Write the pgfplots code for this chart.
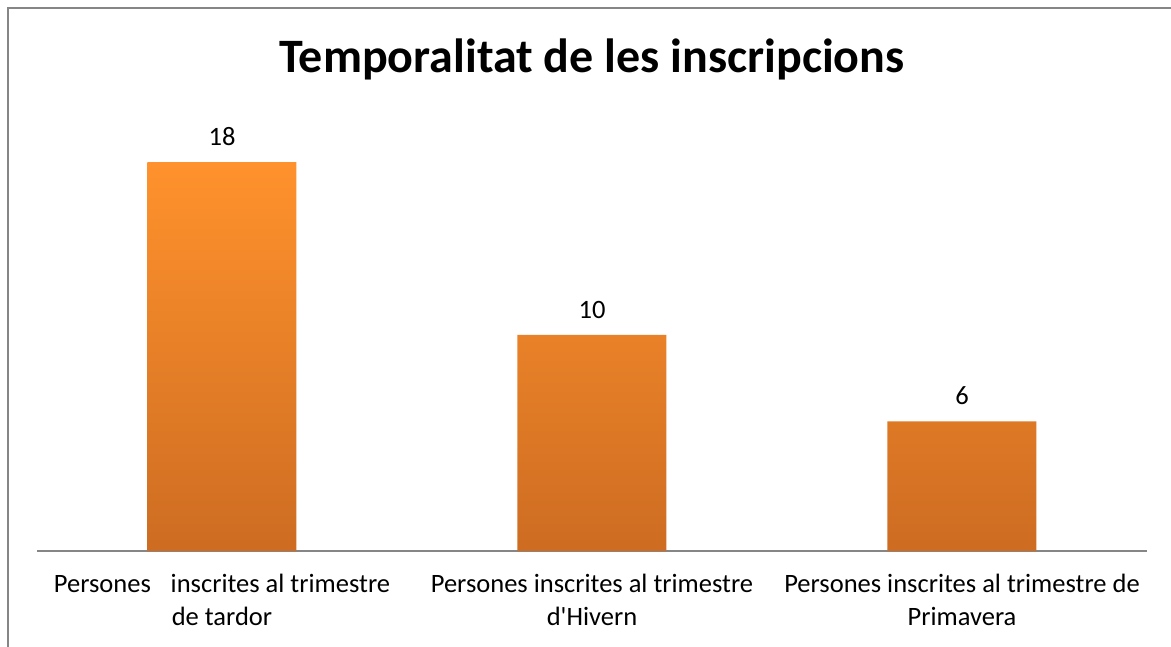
\documentclass[border=0pt]{standalone}
\usepackage{fontspec}
\setmainfont{Carlito}
\usepackage{pgfplots}
\pgfplotsset{compat=1.18}
\definecolor{barTop}{RGB}{255,146,44}
\definecolor{barBot}{RGB}{205,108,34}
\definecolor{frameGray}{RGB}{134,134,134}
\begin{document}
\begin{tikzpicture}[x=1pt,y=1pt]
\useasboundingbox (0,0) rectangle (1171,646);
\draw[frameGray, line width=1.5pt] (8,-20) -- (8,638) -- (1200,638);
\begin{axis}[
  at={(37pt,95pt)}, anchor=south west,
  scale only axis, width=1110pt, height=432pt,
  xmin=-0.5, xmax=2.5, ymin=0, ymax=20,
  axis x line=bottom, axis y line=none,
  axis line style={frameGray, line width=1.5pt, -},
  xtick={0,1,2}, major tick length=0pt, ytick=\empty,
  xticklabels={{Persones\hspace{0.75em}inscrites al trimestre\\de tardor},
               {Persones inscrites al trimestre\\d\textquotesingle Hivern},
               {Persones inscrites al trimestre de\\Primavera}},
  tick label style={font=\fontsize{26.5}{33}\selectfont, align=center},
  xticklabel style={yshift=-20pt},
  /pgf/number format/assume math mode=true,
  ybar, bar width=149pt,
  nodes near coords,
  every node near coord/.append style={font=\fontsize{26.5}{33}\selectfont, yshift=13pt},
  clip=false,
]
\addplot[draw=none, top color=barTop, bottom color=barBot] coordinates {(0,18)(1,10)(2,6)};
\end{axis}
\node[font=\bfseries\fontsize{48}{58}\selectfont, anchor=base] at (592,573) {Temporalitat de les inscripcions};
\end{tikzpicture}
\end{document}
